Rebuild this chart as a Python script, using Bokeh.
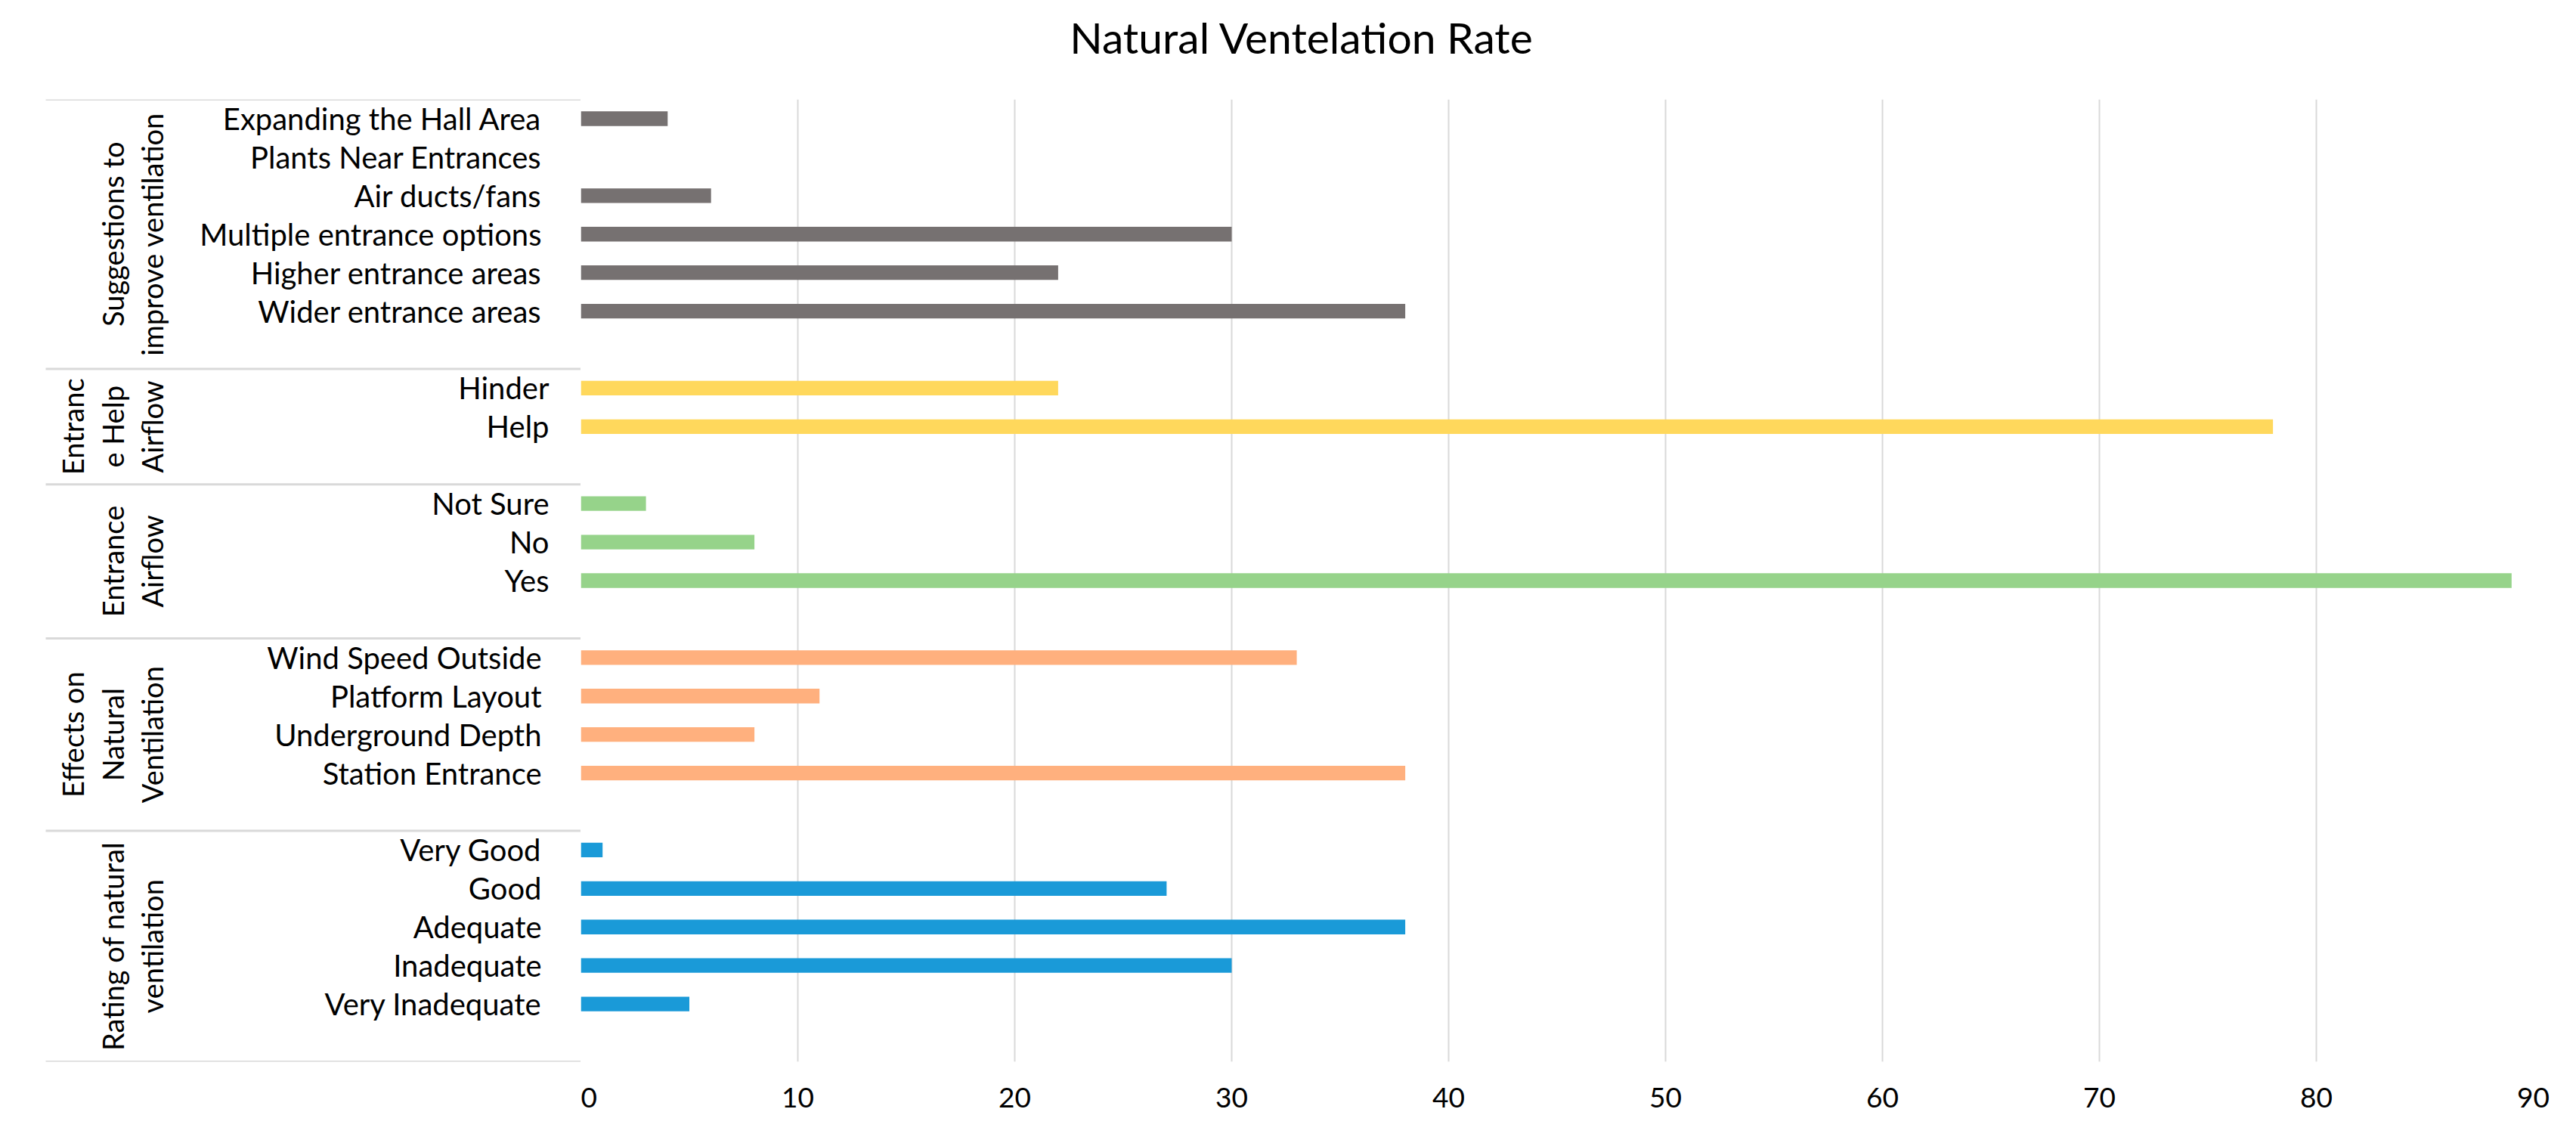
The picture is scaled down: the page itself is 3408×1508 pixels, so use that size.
import math
from bokeh.plotting import figure
from bokeh.models import FactorRange, Range1d, FixedTicker, ColumnDataSource
from bokeh.layouts import row, column
from bokeh.embed import file_html
from bokeh.resources import INLINE
from bokeh.core.properties import value

# ---------------- data ----------------
title_text = "Natural Ventelation Rate"

groups = ["Rating of natural ventilation", "Effects on Natural Ventilation",
          "Entrance Airflow", "Entrance Help Airflow",
          "Suggestions to improve ventilation"]
group_labels = ["Rating of natural\nventilation", "Effects on\nNatural\nVentilation",
                "Entrance\nAirflow", "Entranc\ne Help\nAirflow",
                "Suggestions to\nimprove ventilation"]

# items listed bottom -> top (Excel category order)
rating_items = ["Very Inadequate", "Inadequate", "Adequate", "Good", "Very Good"]
rating_values = [5, 30, 38, 27, 1]

effects_items = ["Station Entrance", "Underground Depth", "Platform Layout", "Wind Speed Outside"]
effects_values = [38, 8, 11, 33]

airflow_items = ["Yes", "No", "Not Sure"]
airflow_values = [89, 8, 3]

help_items = ["Help", "Hinder"]
help_values = [78, 22]

suggest_items = ["Wider entrance areas", "Higher entrance areas", "Multiple entrance options",
                 "Air ducts/fans", "Plants Near Entrances", "Expanding the Hall Area"]
suggest_values = [38, 22, 30, 6, 0, 4]

x_ticks = [0, 10, 20, 30, 40, 50, 60, 70, 80, 90]

# ---------------- styles ----------------
group_colors = ["#1A9AD8", "#FFB07E", "#96D38A", "#FFD85C", "#767171"]
label_nudge = [0, 0, 10, 10, 0]
FONT = value("Lato")
BLANK = " "

group_items = [rating_items, effects_items, airflow_items, help_items, suggest_items]
group_values = [rating_values, effects_values, airflow_values, help_values, suggest_values]

factors = []
bar_y, bar_v, bar_c = [], [], []
lab_y, lab_t, lab_x = [], [], []
for g, items, vals, col, nud in zip(groups, group_items, group_values, group_colors, label_nudge):
    factors.append((g, BLANK))
    for it, v in zip(items, vals):
        factors.append((g, it))
        bar_y.append((g, it)); bar_v.append(v); bar_c.append(col)
        lab_y.append((g, it)); lab_t.append(it); lab_x.append(716 + nud)

yr = FactorRange(factors=factors, factor_padding=0, group_padding=0,
                 subgroup_padding=0, range_padding=0)

W = 3392
TITLE_H = 100
TOP, BOTTOM = 31, 88
H = 1492 - TITLE_H
LEFT_W = 768
MAIN_W = W - LEFT_W

# ---------------- title strip ----------------
T = figure(width=W, height=TITLE_H, x_range=Range1d(0, W), y_range=Range1d(0, TITLE_H),
           output_backend="svg", toolbar_location=None,
           x_axis_location=None, y_axis_location=None,
           min_border_left=0, min_border_right=0, min_border_top=0, min_border_bottom=0)
T.outline_line_color = None
T.grid.visible = False
T.text(x=[1722], y=[TITLE_H - 48], text=[title_text], text_align="center",
       text_baseline="middle", text_font=FONT, text_font_size="57px", text_color="#000000")

# ---------------- main figure ----------------
p = figure(width=MAIN_W, height=H, x_range=Range1d(0, 90), y_range=yr,
           output_backend="svg", toolbar_location=None, y_axis_location=None,
           min_border_left=0, min_border_right=41, min_border_top=TOP,
           min_border_bottom=BOTTOM)
p.outline_line_color = None
p.background_fill_color = "white"
p.border_fill_color = "white"

src = ColumnDataSource(dict(y=bar_y, v=bar_v, c=bar_c))
p.hbar(y="y", left=0, right="v", height=0.38, fill_color="c", line_color=None, source=src)

ticker = FixedTicker(ticks=x_ticks)
p.xaxis.ticker = ticker
p.xgrid.ticker = ticker
p.ygrid.visible = False
p.xgrid.grid_line_color = "#D9D9D9"
p.xgrid.grid_line_width = 2
p.xaxis.axis_line_color = None
p.xaxis.major_tick_line_color = None
p.xaxis.minor_tick_line_color = None
p.xaxis.major_tick_out = 0
p.xaxis.major_tick_in = 0
p.xaxis.major_label_standoff = 34
p.xaxis.major_label_text_font = "Lato"
p.xaxis.major_label_text_font_size = "37px"
p.xaxis.major_label_text_color = "#000000"

# ---------------- left label column ----------------
L = figure(width=LEFT_W, height=H, x_range=Range1d(0, LEFT_W), y_range=yr,
           output_backend="svg", toolbar_location=None,
           x_axis_location=None, y_axis_location=None,
           min_border_left=0, min_border_right=0, min_border_top=TOP,
           min_border_bottom=BOTTOM)
L.outline_line_color = None
L.grid.visible = False
L.background_fill_color = "white"
L.border_fill_color = "white"

bounds = [(g, BLANK, -0.5) for g in groups] + [(groups[-1], suggest_items[-1], 0.5)]
L.segment(x0=60, x1=LEFT_W, y0=bounds, y1=bounds, line_color="#D9D9D9", line_width=3)

L.text(x=lab_x, y=lab_y, text=lab_t, text_align="right", text_baseline="middle",
       text_font=FONT, text_font_size="40px", text_color="#000000")

L.text(x=[224] * len(groups), y=groups, text=group_labels, angle=math.pi / 2,
       text_align="center", text_baseline="bottom", text_line_height=1.15,
       text_font=FONT, text_font_size="38px", text_color="#000000")

layout = column(T, row(L, p))
open("out.html", "w").write(file_html(layout, INLINE))
